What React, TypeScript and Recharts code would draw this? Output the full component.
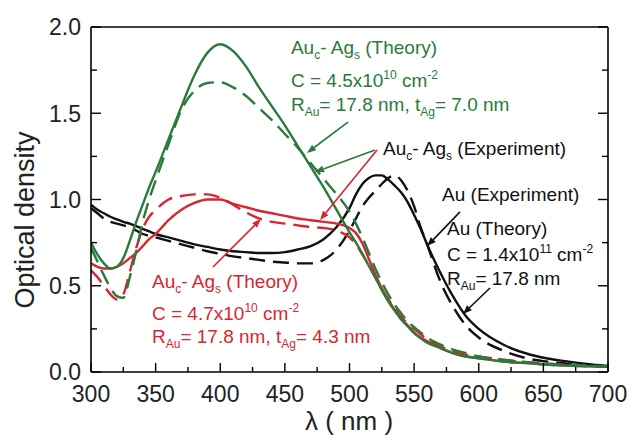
import React from "react";
import { LineChart, Line, XAxis, YAxis } from "recharts";

// wavelength grid (nm)
const WAVELENGTH = [
  300, 305, 310, 315, 320, 325, 330, 335, 340, 345, 350, 360, 370, 380, 390, 400,
  410, 420, 430, 440, 450, 460, 470, 480, 490, 500, 505, 510, 515, 520, 525, 530,
  535, 540, 545, 550, 555, 560, 570, 580, 590, 600, 620, 640, 660, 680, 700,
];

// Au core - Ag shell, t_Ag = 7.0 nm (green)
const GREEN_SOLID = [
  0.75, 0.68, 0.63, 0.6, 0.61, 0.66, 0.76, 0.87, 0.97, 1.07, 1.16, 1.35, 1.54, 1.72, 1.85, 1.9,
  1.86, 1.77, 1.65, 1.54, 1.43, 1.31, 1.19, 1.07, 0.94, 0.81, 0.75, 0.685, 0.615, 0.545, 0.475, 0.41,
  0.355, 0.305, 0.265, 0.225, 0.195, 0.17, 0.14, 0.11, 0.09, 0.08, 0.06, 0.05, 0.04, 0.035, 0.03,
];
const GREEN_DASHED = [
  0.72, 0.64, 0.56, 0.49, 0.44, 0.43, 0.55, 0.7, 0.87, 1.0, 1.11, 1.32, 1.52, 1.63, 1.675, 1.68,
  1.65, 1.6, 1.53, 1.46, 1.38, 1.3, 1.21, 1.12, 1.03, 0.93, 0.86, 0.78, 0.69, 0.6, 0.52, 0.45,
  0.39, 0.34, 0.295, 0.26, 0.23, 0.2, 0.16, 0.13, 0.11, 0.09, 0.07, 0.055, 0.045, 0.04, 0.03,
];

// Au core - Ag shell, t_Ag = 4.3 nm (red)
const RED_SOLID = [
  0.63, 0.61, 0.6, 0.6, 0.61, 0.63, 0.66, 0.69, 0.73, 0.77, 0.8, 0.88, 0.94, 0.98, 1.0, 1.0,
  0.975, 0.955, 0.935, 0.92, 0.905, 0.89, 0.88, 0.87, 0.86, 0.835, 0.805, 0.745, 0.655, 0.565, 0.485, 0.42,
  0.36, 0.31, 0.27, 0.23, 0.2, 0.18, 0.14, 0.11, 0.09, 0.08, 0.06, 0.05, 0.04, 0.035, 0.03,
];
const RED_DASHED = [
  0.59, 0.55, 0.5, 0.45, 0.42, 0.45, 0.58, 0.72, 0.83, 0.9, 0.94, 1.0, 1.02, 1.03, 1.03, 1.01,
  0.97, 0.925, 0.89, 0.87, 0.86, 0.85, 0.84, 0.835, 0.82, 0.78, 0.74, 0.68, 0.62, 0.55, 0.48, 0.42,
  0.37, 0.32, 0.28, 0.25, 0.22, 0.19, 0.15, 0.12, 0.1, 0.09, 0.07, 0.055, 0.045, 0.035, 0.03,
];

// bare Au (black)
const BLACK_SOLID = [
  0.97, 0.94, 0.92, 0.9, 0.885, 0.87, 0.86, 0.845, 0.83, 0.815, 0.8, 0.78, 0.76, 0.74, 0.725, 0.71,
  0.7, 0.695, 0.69, 0.69, 0.695, 0.71, 0.73, 0.77, 0.84, 0.95, 1.03, 1.09, 1.125, 1.14, 1.14, 1.115,
  1.08, 1.04, 0.985, 0.91, 0.83, 0.74, 0.58, 0.44, 0.325, 0.25, 0.155, 0.1, 0.07, 0.05, 0.035,
];
const BLACK_DASHED = [
  0.95, 0.92, 0.89, 0.87, 0.86, 0.85, 0.84, 0.82, 0.8, 0.79, 0.78, 0.76, 0.74, 0.72, 0.7, 0.685,
  0.67, 0.66, 0.65, 0.64, 0.635, 0.63, 0.63, 0.65, 0.71, 0.82, 0.89, 0.96, 1.01, 1.05, 1.09, 1.125,
  1.14, 1.11, 1.05, 0.96, 0.84, 0.74, 0.53, 0.38, 0.27, 0.2, 0.12, 0.075, 0.055, 0.04, 0.03,
];

const X_TICKS = [300, 325, 350, 375, 400, 425, 450, 475, 500, 525, 550, 575, 600, 625, 650, 675, 700];
const Y_TICKS = [0, 0.25, 0.5, 0.75, 1, 1.25, 1.5, 1.75, 2];

const GREEN = "#2a7a3c";
const RED = "#d7262f";
const BLACK = "#111";
const FONT = "'Liberation Sans', Arial, sans-serif";

const rows = WAVELENGTH.map((wl, i) => ({
  wl,
  gs: GREEN_SOLID[i],
  gd: GREEN_DASHED[i],
  rs: RED_SOLID[i],
  rd: RED_DASHED[i],
  bs: BLACK_SOLID[i],
  bd: BLACK_DASHED[i],
}));

// plot box, same as the chart margins below
const W = 630;
const H = 437;
const PLOT = { left: 91, right: 608, top: 27, bottom: 372 };
const toX = (nm: number) => PLOT.left + ((nm - 300) / 400) * (PLOT.right - PLOT.left);
const toY = (v: number) => PLOT.bottom - (v / 2) * (PLOT.bottom - PLOT.top);

// annotations in data units [nm, OD]
const NOTES = [
  { at: [454.7, 1.843], color: GREEN, text: "Au_{c}- Ag_{s} (Theory)" },
  { at: [454.7, 1.655], color: GREEN, text: "C = 4.5x10^{10} cm^{-2}" },
  { at: [454.7, 1.515], color: GREEN, text: "R_{Au}= 17.8 nm, t_{Ag}= 7.0 nm" },
  { at: [525.9, 1.258], color: BLACK, text: "Au_{c}- Ag_{s} (Experiment)" },
  { at: [571.6, 0.99], color: BLACK, text: "Au (Experiment)" },
  { at: [575.4, 0.794], color: BLACK, text: "Au (Theory)" },
  { at: [575.4, 0.645], color: BLACK, text: "C = 1.4x10^{11} cm^{-2}" },
  { at: [575.4, 0.504], color: BLACK, text: "R_{Au}= 17.8 nm" },
  { at: [347.2, 0.487], color: RED, text: "Au_{c}- Ag_{s} (Theory)" },
  { at: [347.2, 0.301], color: RED, text: "C = 4.7x10^{10} cm^{-2}" },
  { at: [347.2, 0.168], color: RED, text: "R_{Au}= 17.8 nm, t_{Ag}= 4.3 nm" },
];

const ARROWS = [
  { from: [498.8, 1.449], to: [467.1, 1.27], color: GREEN },
  { from: [519.7, 1.287], to: [473.3, 1.159], color: GREEN },
  { from: [521.3, 1.287], to: [477.2, 0.881], color: RED },
  { from: [394.4, 0.609], to: [431.5, 0.887], color: RED },
  { from: [585.5, 0.928], to: [560, 0.73], color: BLACK },
  { from: [608.7, 0.487], to: [587.8, 0.336], color: BLACK },
];

function RichText({ x, y, text, color }: { x: number; y: number; text: string; color: string }) {
  const parts = text.split(/(_\{[^}]*\}|\^\{[^}]*\})/).filter(Boolean);
  let shift = 0;
  return (
    <text x={x} y={y} fill={color} fontSize={19} fontFamily={FONT} style={{ whiteSpace: "pre" }}>
      {parts.map((p, i) => {
        let target = 0;
        let content = p;
        let fs = 19;
        if (p.startsWith("_{")) {
          target = 5;
          content = p.slice(2, -1);
          fs = 12;
        } else if (p.startsWith("^{")) {
          target = -8;
          content = p.slice(2, -1);
          fs = 12;
        }
        const dy = target - shift;
        shift = target;
        return (
          <tspan key={i} dy={dy} fontSize={fs}>
            {content}
          </tspan>
        );
      })}
    </text>
  );
}

function Arrow({ from, to, color }: { from: number[]; to: number[]; color: string }) {
  const x1 = toX(from[0]);
  const y1 = toY(from[1]);
  const x2 = toX(to[0]);
  const y2 = toY(to[1]);
  const a = Math.atan2(y2 - y1, x2 - x1);
  const len = 9;
  const half = 3.5;
  const bx = x2 - len * Math.cos(a);
  const by = y2 - len * Math.sin(a);
  const pts = `${x2},${y2} ${bx - half * Math.sin(a)},${by + half * Math.cos(a)} ${bx + half * Math.sin(a)},${by - half * Math.cos(a)}`;
  return (
    <g>
      <line x1={x1} y1={y1} x2={bx} y2={by} stroke={color} strokeWidth={1.6} />
      <polygon points={pts} fill={color} />
    </g>
  );
}

const isMajorX = (v: number) => v % 50 === 0;
const isMajorY = (v: number) => Math.abs(v * 2 - Math.round(v * 2)) < 1e-6;

const BottomTick = (props: any) => {
  const { x, y, payload } = props;
  const major = isMajorX(payload.value);
  return (
    <g>
      <line x1={x} x2={x} y1={y} y2={y - (major ? 9 : 5)} stroke="#000" strokeWidth={1.4} />
      {major && (
        <text x={x} y={y + 30} textAnchor="middle" fontSize={23} fontFamily={FONT} fill="#222">
          {payload.value}
        </text>
      )}
    </g>
  );
};

const TopTick = (props: any) => {
  const { x, y, payload } = props;
  const major = isMajorX(payload.value);
  return <line x1={x} x2={x} y1={y} y2={y + (major ? 9 : 5)} stroke="#000" strokeWidth={1.4} />;
};

const LeftTick = (props: any) => {
  const { x, y, payload } = props;
  const major = isMajorY(payload.value);
  return (
    <g>
      <line x1={x} x2={x + (major ? 10 : 6)} y1={y} y2={y} stroke="#000" strokeWidth={1.4} />
      {major && (
        <text x={x - 10} y={y + 8.3} textAnchor="end" fontSize={23} fontFamily={FONT} fill="#222">
          {payload.value.toFixed(1)}
        </text>
      )}
    </g>
  );
};

const RightTick = (props: any) => {
  const { x, y, payload } = props;
  const major = isMajorY(payload.value);
  return <line x1={x} x2={x - (major ? 10 : 6)} y1={y} y2={y} stroke="#000" strokeWidth={1.4} />;
};

const axisLine = { stroke: "#000", strokeWidth: 1.6 };

export default function App() {
  return (
    <div style={{ position: "absolute", left: 0, top: 0, width: W, height: H, background: "#fff" }}>
      <LineChart width={W} height={H} data={rows} margin={{ top: 0, right: 0, bottom: 0, left: 0 }}>
        <XAxis
          dataKey="wl"
          type="number"
          domain={[300, 700]}
          ticks={X_TICKS}
          interval={0}
          height={65}
          tickLine={false}
          tickSize={0}
          tickMargin={0}
          tick={<BottomTick />}
          axisLine={axisLine}
          allowDataOverflow
        />
        <XAxis
          xAxisId="top"
          orientation="top"
          type="number"
          domain={[300, 700]}
          ticks={X_TICKS}
          interval={0}
          height={27}
          tickLine={false}
          tickSize={0}
          tickMargin={0}
          tick={<TopTick />}
          axisLine={axisLine}
          allowDataOverflow
        />
        <YAxis
          type="number"
          domain={[0, 2]}
          ticks={Y_TICKS}
          interval={0}
          width={91}
          tickLine={false}
          tickSize={0}
          tickMargin={0}
          tick={<LeftTick />}
          axisLine={axisLine}
          allowDataOverflow
        />
        <YAxis
          yAxisId="right"
          orientation="right"
          type="number"
          domain={[0, 2]}
          ticks={Y_TICKS}
          interval={0}
          width={22}
          tickLine={false}
          tickSize={0}
          tickMargin={0}
          tick={<RightTick />}
          axisLine={axisLine}
          allowDataOverflow
        />
        <Line dataKey="bd" type="monotone" stroke={BLACK} strokeWidth={2.4} strokeDasharray="16 8" dot={false} isAnimationActive={false} />
        <Line dataKey="bs" type="monotone" stroke={BLACK} strokeWidth={2.4} dot={false} isAnimationActive={false} />
        <Line dataKey="rd" type="monotone" stroke={RED} strokeWidth={2.4} strokeDasharray="16 8" dot={false} isAnimationActive={false} />
        <Line dataKey="rs" type="monotone" stroke={RED} strokeWidth={2.4} dot={false} isAnimationActive={false} />
        <Line dataKey="gd" type="monotone" stroke={GREEN} strokeWidth={2.4} strokeDasharray="16 8" dot={false} isAnimationActive={false} />
        <Line dataKey="gs" type="monotone" stroke={GREEN} strokeWidth={2.4} dot={false} isAnimationActive={false} />
      </LineChart>
      <svg width={W} height={H} style={{ position: "absolute", left: 0, top: 0, pointerEvents: "none" }}>
        {ARROWS.map((a, i) => (
          <Arrow key={i} from={a.from} to={a.to} color={a.color} />
        ))}
        {NOTES.map((n, i) => (
          <RichText key={i} x={toX(n.at[0])} y={toY(n.at[1])} text={n.text} color={n.color} />
        ))}
        <text
          transform="translate(34 220) rotate(-90)"
          textAnchor="middle"
          fontSize={27}
          fontFamily={FONT}
          fill="#222"
        >
          Optical density
        </text>
        <text x={349} y={430} textAnchor="middle" fontSize={26} fontFamily={FONT} fill="#222" style={{ whiteSpace: "pre" }}>
          λ ( nm )
        </text>
      </svg>
    </div>
  );
}
